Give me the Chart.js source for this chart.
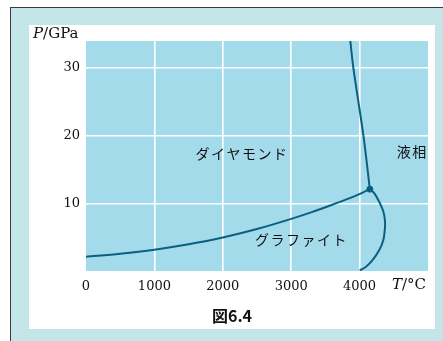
<!DOCTYPE html>
<html>
<head>
<meta charset="utf-8">
<script src="https://cdn.jsdelivr.net/npm/chart.js@4/dist/chart.umd.min.js"></script>
<style>
  html, body { margin: 0; padding: 0; background: #ffffff; width: 443px; height: 341px; overflow: hidden; }
  #frame { position: absolute; left: 10px; top: 7px; width: 433px; height: 334px;
           background: #c5e6e8; border-left: 1.5px solid #3a3a3a; border-top: 1.5px solid #3a3a3a; box-sizing: border-box; }
  #panel { position: absolute; left: 29px; top: 25px; width: 406px; height: 304px; background: #ffffff; }
  #wrap { position: absolute; left: 0; top: 0; width: 443px; height: 341px; }
</style>
</head>
<body>
<div id="frame"></div>
<div id="panel"></div>
<div id="wrap"><canvas id="c" width="443" height="341"></canvas></div>
<script>
// Phase diagram of carbon: temperature T (°C) vs pressure P (GPa)

// graphite / diamond coexistence line
const gdT = [0, 500, 1000, 1500, 2000, 2500, 3000, 3300, 3600, 3900, 4150];
const gdP = [2.1, 2.55, 3.15, 3.95, 4.95, 6.2, 7.7, 8.7, 9.8, 10.95, 12.1];

// diamond / liquid coexistence line
const dlT = [4150, 4056, 3909, 3864];
const dlP = [12.1, 20, 30, 34];

// graphite / liquid coexistence line
const glT = [4150, 4214, 4288, 4347, 4370, 4370, 4347, 4288, 4189, 4090, 4001];
const glP = [12.1, 11.5, 10.2, 8.8, 7.5, 6.3, 4.6, 3.1, 1.6, 0.6, 0.1];

// triple point
const tripleT = [4150];
const tripleP = [12.1];

const xTicks = [0, 1000, 2000, 3000, 4000];
const yTicks = [10, 20, 30];

// region names, placed at data coordinates
const regionNames = ['ダイヤモンド', '液相', 'グラファイト'];
const regionT = [2270, 4760, 3140];
const regionP = [17.3, 17.6, 4.6];

const LINE = '#0b5f80';
const pts = (xs, ys) => xs.map((x, i) => ({ x, y: ys[i] }));

const decor = {
  id: 'decor',
  beforeDraw(chart) {
    const { ctx, chartArea: a } = chart;
    ctx.save();
    ctx.fillStyle = '#a3dbea';
    ctx.fillRect(a.left, a.top, a.right - a.left, a.bottom - a.top);
    ctx.restore();
  },
  afterDraw(chart) {
    const { ctx, scales } = chart;
    const xs = scales.x, ys = scales.y;
    ctx.save();
    ctx.fillStyle = '#111111';
    // region labels, drawn glyph by glyph with fixed pitch
    ctx.font = '14px "Noto Sans CJK JP"';
    ctx.textBaseline = 'middle';
    ctx.textAlign = 'center';
    regionNames.forEach((name, k) => {
      const cx = xs.getPixelForValue(regionT[k]);
      const cy = ys.getPixelForValue(regionP[k]);
      const pitch = 15.5;
      const chars = [...name];
      const start = cx - pitch * (chars.length - 1) / 2;
      chars.forEach((ch, i) => ctx.fillText(ch, start + i * pitch, cy));
    });

    // axis titles
    const serif = '"DejaVu Serif"';
    ctx.textBaseline = 'middle';
    ctx.textAlign = 'left';
    // P/GPa
    let x0 = 33, y0 = 34;
    ctx.font = 'italic 15px ' + serif;
    ctx.fillText('P', x0, y0);
    x0 += ctx.measureText('P').width;
    ctx.font = '15px ' + serif;
    ctx.fillText('/GPa', x0, y0);
    // T/°C
    x0 = 392; y0 = 285;
    ctx.font = 'italic 15px ' + serif;
    ctx.fillText('T', x0, y0);
    x0 += ctx.measureText('T').width;
    ctx.font = '15px ' + serif;
    ctx.fillText('/°C', x0, y0);

    // caption
    ctx.font = 'bold 16px "Noto Sans CJK JP"';
    ctx.textAlign = 'center';
    ctx.fillText('図6.4', 232, 316);
    ctx.restore();
  }
};

const lineDs = (data) => ({
  data, borderColor: LINE, borderWidth: 2, pointRadius: 0, tension: 0.3,
  fill: false, showLine: true
});

new Chart(document.getElementById('c'), {
  type: 'scatter',
  data: {
    datasets: [
      Object.assign(lineDs(pts(gdT, gdP)), { cubicInterpolationMode: 'monotone' }),
      lineDs(pts(dlT, dlP)),
      lineDs(pts(glT, glP)),
      { data: pts(tripleT, tripleP), pointRadius: 3, pointBackgroundColor: LINE,
        pointBorderColor: LINE, showLine: false }
    ]
  },
  options: {
    responsive: false,
    animation: false,
    events: [],
    layout: { padding: { left: 0, right: 15, top: 41, bottom: 0 } },
    plugins: { legend: { display: false }, tooltip: { enabled: false } },
    scales: {
      x: {
        type: 'linear', min: 0, max: 5000,
        afterBuildTicks: s => { s.ticks = xTicks.map(v => ({ value: v })); },
        afterFit: s => { s.height = 70; },
        border: { display: false },
        grid: { color: ctx => (ctx.tick && ctx.tick.value === 0) ? 'rgba(0,0,0,0)' : '#ffffff',
                lineWidth: 1.6, drawTicks: false },
        ticks: { color: '#111111', font: { family: 'DejaVu Serif', size: 13 }, padding: 8,
                 maxRotation: 0, autoSkip: false, callback: v => String(v) }
      },
      y: {
        type: 'linear', min: 0, max: 34,
        afterBuildTicks: s => { s.ticks = yTicks.map(v => ({ value: v })); },
        afterFit: s => { s.width = 86; },
        border: { display: false },
        grid: { color: '#ffffff', lineWidth: 1.6, drawTicks: false },
        ticks: { color: '#111111', font: { family: 'DejaVu Serif', size: 13 }, padding: 6,
                 autoSkip: false, callback: v => String(v) }
      }
    }
  },
  plugins: [decor]
});
</script>
</body>
</html>
